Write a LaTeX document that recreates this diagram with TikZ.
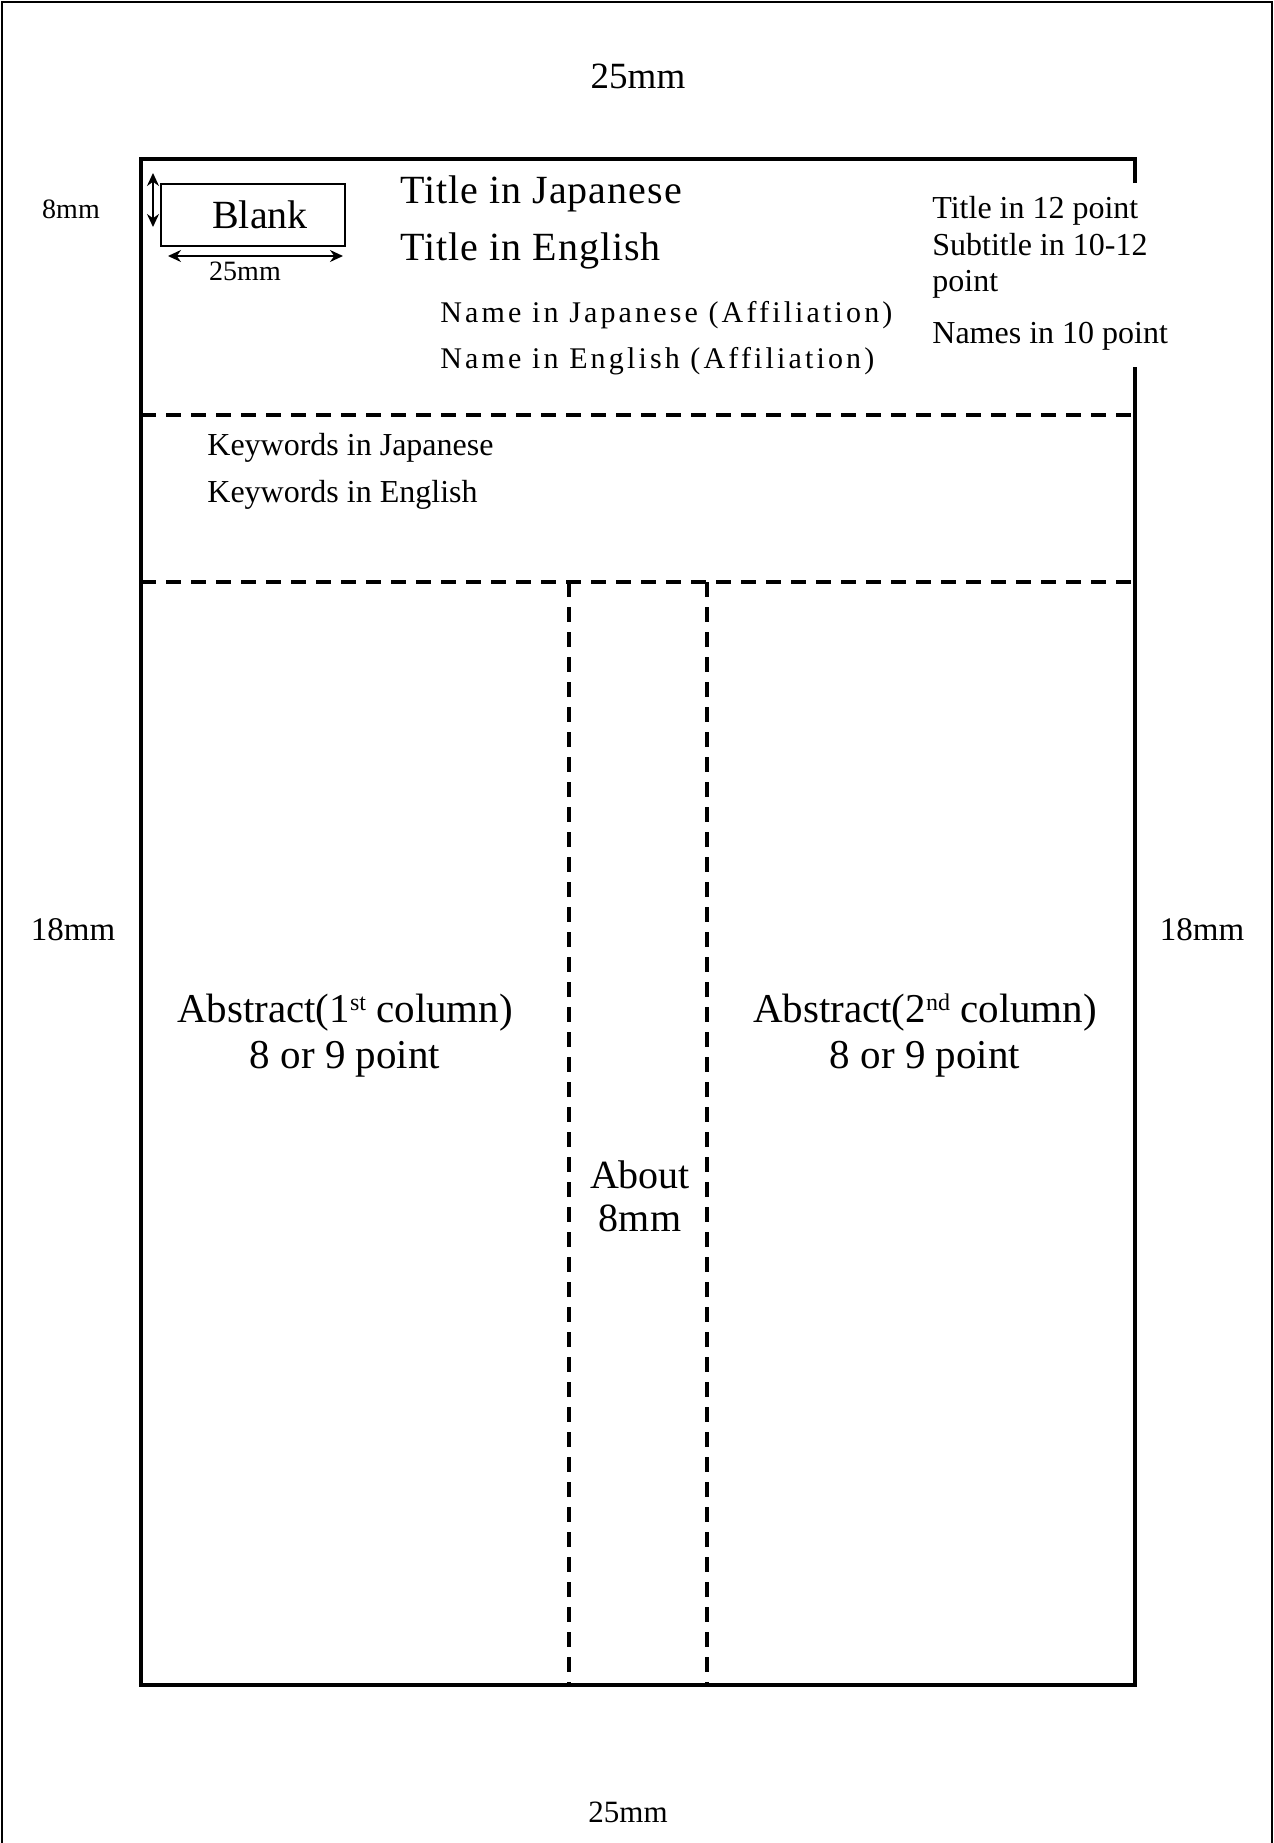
\documentclass[tikz,border=0pt]{standalone}
\usepackage{fontspec}
\setmainfont{Liberation Serif}
\newfontfamily\titlefont[LetterSpace=2.5]{Liberation Serif}
\newfontfamily\namefont[LetterSpace=10.5]{Liberation Serif}
\newcommand{\fsz}[1]{\fontsize{#1pt}{#1pt}\selectfont}
\newcommand{\ordsup}[1]{\raisebox{6pt}{\fsz{12}#1}}
\usetikzlibrary{arrows.meta}

\begin{document}
\begin{tikzpicture}[x=0.5pt,y=-0.5pt,
        frame/.style={line width=2pt},
        dashes/.style={line width=1.8pt,dash pattern=on 7.5pt off 5pt},
        dimarrow/.style={line width=0.9pt,{Stealth[length=6.5pt,width=6pt]}-{Stealth[length=6.5pt,width=6pt]}},
        lefttext/.style={inner sep=0pt,anchor=base west},
        midtext/.style={inner sep=0pt,anchor=base}]
        % page edge
        \useasboundingbox (0,0) rectangle (1274,1843);
        \draw[line width=1pt] (2,1843) -- (2,2) -- (1272,2) -- (1272,1843);

        % text area, open on the right beside the notes
        \draw[frame] (1135,183) -- (1135,159) -- (141,159) -- (141,1685) -- (1135,1685) -- (1135,367);

        % dashed lines
        \draw[dashes] (141,415) -- (1135,415);
        \draw[dashes] (141,582) -- (1135,582);
        \foreach \x in {569,707}
        \draw[dashes] (\x,582) -- (\x,1685);

        % margins
        \node[midtext,font=\fsz{18.5}] (mtop) at (638,88) {25mm};
        \node[midtext,font=\fsz{15.5}] (mbot) at (628,1822) {25mm};
        \foreach \x/\name in {73/mleft,1202/mright}
        \node[midtext,font=\fsz{16.5}] (\name) at (\x,940) {18mm};

        % blank box and its sizes
        \draw[line width=0.8pt] (161,184) rectangle (345,246);
        \node[inner sep=0pt,font=\fsz{20}] (blank) at (260,215) {Blank};
        \coordinate (vtop) at (153,173);
        \coordinate (vbot) at (153,227);
        \draw[dimarrow] (vtop) -- (vbot);
        \coordinate (hleft) at (168,256);
        \coordinate (hright) at (343,256);
        \draw[dimarrow] (hleft) -- (hright);
        \node[midtext,font=\fsz{14}] (h8) at (71,218) {8mm};
        \node[midtext,font=\fsz{14}] (w25) at (245,280) {25mm};

        % title and names
        \node[lefttext,font=\titlefont\fsz{20}] (tjp) at (400,203) {Title in Japanese};
        \node[lefttext,font=\titlefont\fsz{20}] (ten) at (400,260) {Title in English};
        \node[lefttext,font=\namefont\fsz{15}] (njp) at (440,322) {Name in Japanese (Affiliation)};
        \node[lefttext,font=\namefont\fsz{15}] (nen) at (440,368) {Name in English (Affiliation)};

        % notes on sizes
        \node[lefttext,font=\fsz{16}] (note1) at (932,218) {Title in 12 point};
        \node[lefttext,font=\fsz{16}] (note2) at (932,255) {Subtitle in 10-12};
        \node[lefttext,font=\fsz{16}] (note3) at (932,291) {point};
        \node[lefttext,font=\fsz{16}] (note4) at (932,343) {Names in 10 point};

        % keywords
        \node[lefttext,font=\fsz{16}] (kjp) at (207,455) {Keywords in Japanese};
        \node[lefttext,font=\fsz{16}] (ken) at (207,502) {Keywords in English};

        % abstract columns
        \node[midtext,font=\fsz{20.5}] (absa1) at (345,1022) {Abstract(1\ordsup{st} column)};
        \node[midtext,font=\fsz{20.5}] (absa2) at (345,1068) {8 or 9 point};
        \node[midtext,font=\fsz{20.5}] (absb1) at (925,1022) {Abstract(2\ordsup{nd} column)};
        \node[midtext,font=\fsz{20.5}] (absb2) at (925,1068) {8 or 9 point};
        \node[midtext,font=\fsz{20}] (gap1) at (640,1188) {About};
        \node[midtext,font=\fsz{20}] (gap2) at (640,1231) {8mm};
    \end{tikzpicture}
\end{document}
